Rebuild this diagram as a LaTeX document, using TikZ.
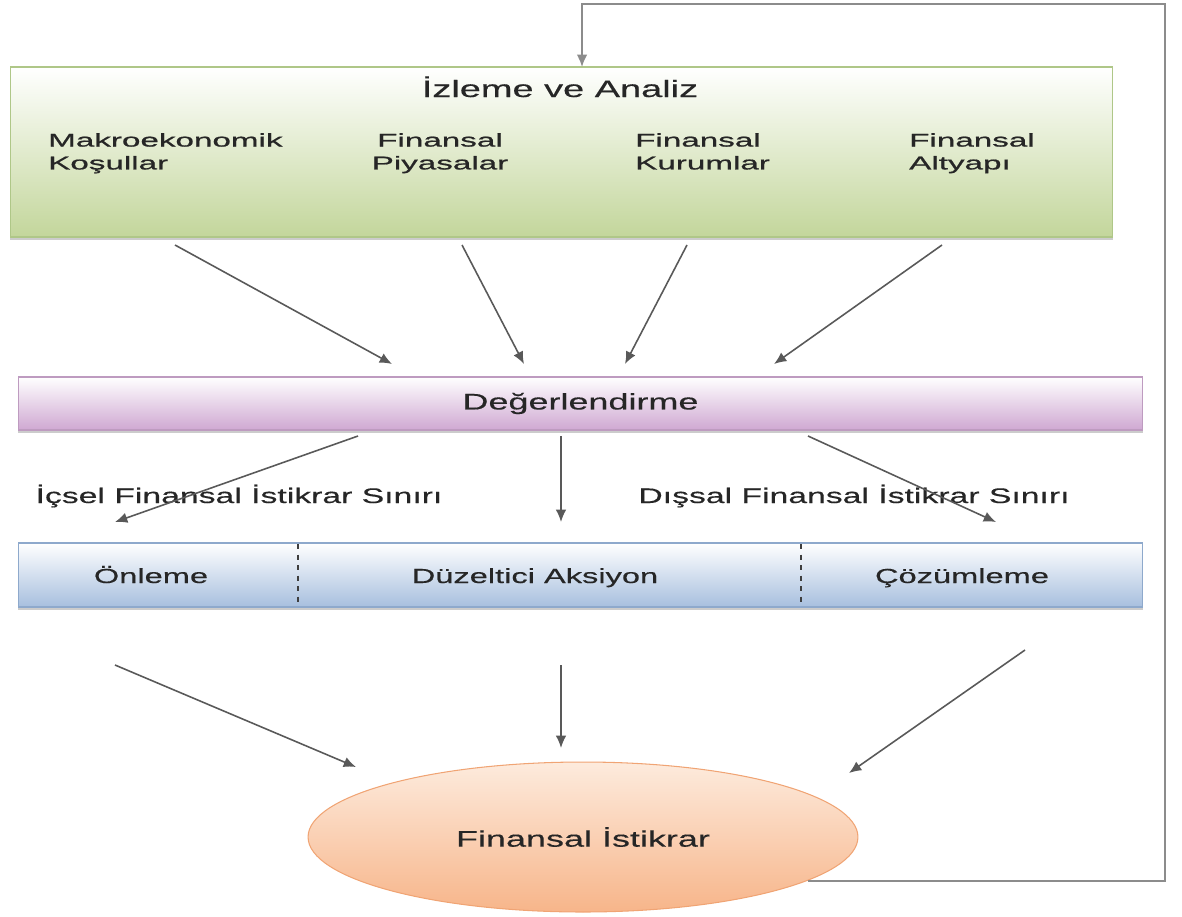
\documentclass[tikz,border=0pt]{standalone}
\usepackage{fontspec}
\usepackage{xcolor}
\usepackage{tikz}
\setmainfont{Liberation Sans}[FakeStretch=1.6, FakeBold=0.35]
\newfontfamily\altfont{Liberation Sans}[FakeStretch=1.8, FakeBold=0.9]
\usetikzlibrary{shapes.geometric,shadows,arrows.meta}

\definecolor{yazi}{HTML}{262626}
\definecolor{okgri}{HTML}{595959}
\definecolor{donusgri}{HTML}{8C8C8C}
\definecolor{yesilalt}{HTML}{C3D69B}
\definecolor{yesilcizgi}{HTML}{AFC788}
\definecolor{moralt}{HTML}{CFA8D2}
\definecolor{morcizgi}{HTML}{BE9BC0}
\definecolor{mavialt}{HTML}{A7BFDE}
\definecolor{mavicizgi}{HTML}{8EA9CC}
\definecolor{turuncuust}{HTML}{FDEBDD}
\definecolor{turuncualt}{HTML}{F7B58A}
\definecolor{turuncucizgi}{HTML}{F0A474}

\begin{document}
\begin{tikzpicture}[x=0.02cm, y=-0.02cm, text=yazi,
    kutu/.style={rectangle, draw, line width=0.6pt, drop shadow={shadow xshift=0pt, shadow yshift=-1.6pt, opacity=0.4}},
    baslik/.style={font=\fontsize{12.8}{15}\selectfont},
    bolum/.style={font=\fontsize{11.6}{14}\selectfont, anchor=base},
    alt/.style={font=\altfont\fontsize{10.5}{13}\selectfont, text depth=0pt},
    sinir/.style={font=\fontsize{12}{14}\selectfont, anchor=base},
    ok/.style={draw=okgri, line width=0.9pt, -{Latex[length=7pt,width=6pt]}}]
        \useasboundingbox (0,0) rectangle (1182,916);

        % Izleme ve analiz kutusu
        \node[kutu, draw=yesilcizgi, top color=white, bottom color=yesilalt, minimum width=22.06cm, minimum height=3.4cm] (izleme) at (561.5,152) {};
        \node[baslik, font=\fontsize{13.5}{15}\selectfont, anchor=base] (izlemebaslik) at (560,97) {İzleme ve Analiz};
        \node[alt, align=left, anchor=north west] (makro) at (42,127) {Makroekonomik\\Koşullar};
        \node[alt, align=center, anchor=north] (piyasa) at (440,127) {Finansal\\Piyasalar};
        \node[alt, align=left, anchor=north west] (kurum) at (629,127) {Finansal\\Kurumlar};
        \node[alt, align=left, anchor=north west] (altyapi) at (903,127) {Finansal\\Altyapı};

        % Degerlendirme kutusu
        \node[kutu, baslik, draw=morcizgi, top color=white, bottom color=moralt, minimum width=22.5cm, minimum height=1.06cm] (deger) at (580.5,403.5) {Değerlendirme};

        % Eylem kutusu, uc bolum
        \node[kutu, draw=mavicizgi, top color=white, bottom color=mavialt, minimum width=22.5cm, minimum height=1.28cm] (eylem) at (580.5,575) {};
        \node[bolum] (onleme) at (151,583) {Önleme};
        \node[bolum] (duzeltici) at (535,583) {Düzeltici Aksiyon};
        \node[bolum] (cozumleme) at (962,583) {Çözümleme};
        \draw[okgri!70!black, line width=1.4pt, dashed] (298,544) -- (298,606);
        \draw[okgri!70!black, line width=1.4pt, dashed] (801,544) -- (801,606);

        % Sinir etiketleri
        \node[sinir] (icsel) at (239,503) {İçsel Finansal İstikrar Sınırı};
        \node[sinir] (dissal) at (854,503) {Dışsal Finansal İstikrar Sınırı};

        % Finansal istikrar
        \node[ellipse, draw=turuncucizgi, line width=0.6pt, top color=turuncuust, bottom color=turuncualt, minimum width=11cm, minimum height=3cm, baslik] (istikrar) at (583,837) {Finansal İstikrar};

        % Ok uclari
        \coordinate (a1) at (175,245);  \coordinate (b1) at (392,364);
        \coordinate (a2) at (462,245);  \coordinate (b2) at (524,364);
        \coordinate (a3) at (687,245);  \coordinate (b3) at (625,364);
        \coordinate (a4) at (942,245);  \coordinate (b4) at (774,364);
        \coordinate (c1) at (358,436);  \coordinate (d1) at (115,522);
        \coordinate (c2) at (561,436);  \coordinate (d2) at (561,522);
        \coordinate (c3) at (808,436);  \coordinate (d3) at (996,522);
        \coordinate (e1) at (115,665);  \coordinate (f1) at (356,767);
        \coordinate (e2) at (561,665);  \coordinate (f2) at (561,748);
        \coordinate (e3) at (1025,650); \coordinate (f3) at (849,773);
        \coordinate (donus) at (1165,4);
        \coordinate (giris) at (582,67);

        % Baglantilar
        \draw[ok] (a1) -- (b1);
        \draw[ok] (a2) -- (b2);
        \draw[ok] (a3) -- (b3);
        \draw[ok] (a4) -- (b4);
        \draw[ok] (c1) -- (d1);
        \draw[ok] (c2) -- (d2);
        \draw[ok] (c3) -- (d3);
        \draw[ok] (e1) -- (f1);
        \draw[ok] (e2) -- (f2);
        \draw[ok] (e3) -- (f3);

        % Geri besleme
        \draw[ok, draw=donusgri, line width=1.1pt] (istikrar.-11.6) -| (donus) -| (giris);

    \end{tikzpicture}
\end{document}
